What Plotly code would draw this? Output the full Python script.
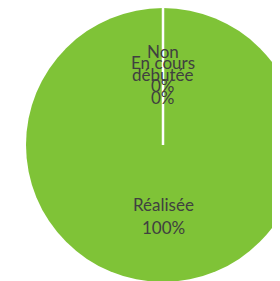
import math
import plotly.graph_objects as go

labels = ["Non débutée", "En cours", "Réalisée"]
values = [0, 0, 100]
percent_text = ["0%", "0%", "100%"]
label_wrapped = ["Non<br>débutée", "En cours", "Réalisée"]

GREEN = "#7FC337"
TEXT = "#404040"

W, H = 300, 280
cx_px, cy_px, r_px = 155, 137, 137  # pie centre/radius in figure pixels
dom_x = [(cx_px - r_px) / W, (cx_px + r_px) / W]
dom_y = [max(0, 1 - (cy_px + r_px) / H), min(1, 1 - (cy_px - r_px) / H)]

fig = go.Figure(go.Pie(
    labels=labels, values=values, sort=False, direction="clockwise", rotation=0,
    marker=dict(colors=[GREEN] * len(labels), line=dict(color="white", width=0)),
    textinfo="none", hoverinfo="label+percent", showlegend=False,
    domain=dict(x=dom_x, y=dom_y),
))

cx = cx_px / W
cy = 1 - cy_px / H
total = sum(values)
line_gap = 23
text_r = r_px * 0.518
annotations = []
cum = 0
for lab, v, wrapped, pct in zip(labels, values, label_wrapped, percent_text):
    mid = (cum + v / 2) / total * 2 * math.pi
    cum += v
    ax = cx + text_r * math.sin(mid) / W
    ay = cy + text_r * math.cos(mid) / H
    lines = wrapped.split("<br>") + [pct]
    n = len(lines)
    for i, ln in enumerate(lines):
        annotations.append(dict(
            x=ax, y=ay, xref="paper", yref="paper", xanchor="center", yanchor="middle",
            text=ln, showarrow=False, yshift=((n - 1) / 2 - i) * line_gap,
            font=dict(family="Lato", size=17, color=TEXT),
        ))

fig.update_layout(
    width=W, height=H, margin=dict(l=0, r=0, t=0, b=0),
    paper_bgcolor="white", annotations=annotations,
    shapes=[dict(type="line", xref="paper", yref="paper",
                 x0=cx, y0=cy, x1=cx, y1=cy + r_px / H,
                 line=dict(color="white", width=2.5))],
)
fig.write_html("out.html")
